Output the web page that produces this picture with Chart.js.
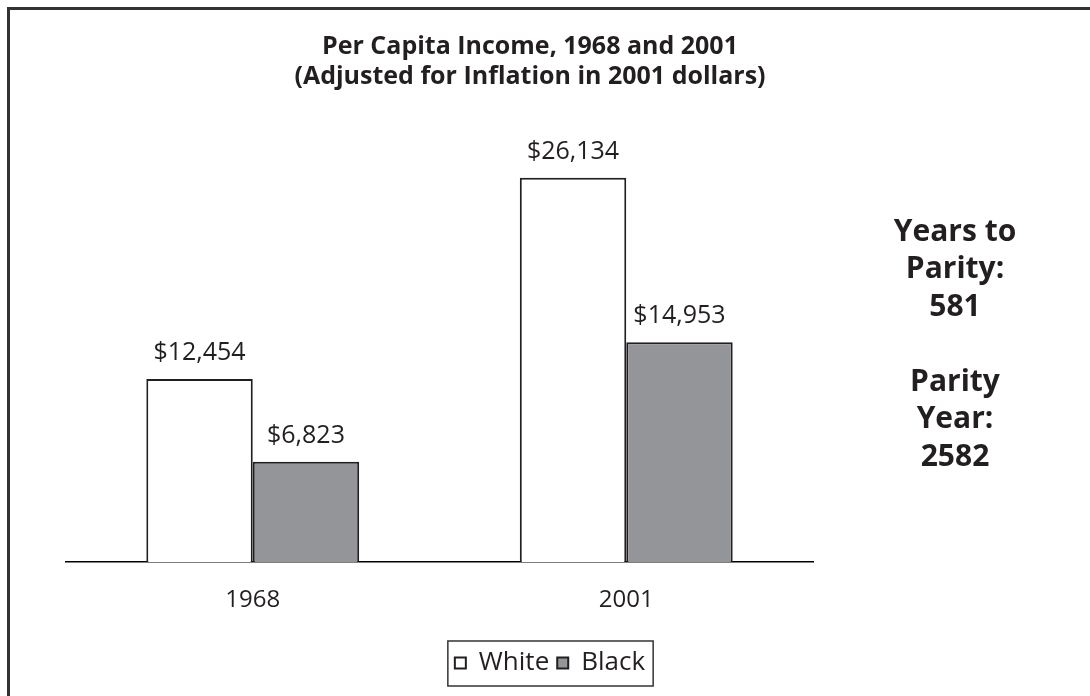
<!DOCTYPE html>
<html>
<head>
<meta charset="utf-8">
<script src="https://cdn.jsdelivr.net/npm/chart.js@4.4.1/dist/chart.umd.min.js"></script>
<style>
  html, body { margin: 0; padding: 0; background: #fff; }
  #wrap { width: 1090px; height: 696px; }
</style>
</head>
<body>
<div id="wrap"><canvas id="chart" width="1090" height="696"></canvas></div>
<script>
const years = ["1968", "2001"];
const seriesNames = ["White", "Black"];
const whiteIncome = [12454, 26134];
const blackIncome = [6823, 14953];
const titleLines = ["Per Capita Income, 1968 and 2001", "(Adjusted for Inflation in 2001 dollars)"];
const sideNotes = ["Years to", "Parity:", "581", "", "Parity", "Year:", "2582"];

const FONT = "'Open Sans', 'DejaVu Sans', sans-serif";
const INK = "#231f20";

const fmt = v => "$" + v.toLocaleString("en-US");

// frame, title and the notes on the right
const decorations = {
    id: 'decorations',
    beforeDraw(chart) {
        let ctx = chart.ctx;
        ctx.save();
        ctx.fillStyle = "#fff";
        ctx.fillRect(0, 0, chart.width, chart.height);
        ctx.strokeStyle = "#333";
        ctx.lineWidth = 3;
        ctx.strokeRect(8.5, 8.5, 1300, 900);
        ctx.restore();
    },
    afterDraw(chart) {
        let ctx = chart.ctx;
        ctx.save();
        ctx.fillStyle = INK;
        ctx.textAlign = "center";
        ctx.textBaseline = "middle";

        ctx.font = "bold 25px " + FONT;
        titleLines.forEach((t, i) => ctx.fillText(t, 530, 47 + i * 30));

        ctx.font = "bold 30px " + FONT;
        sideNotes.forEach((t, i) => ctx.fillText(t, 955, 232 + i * 37.5));

        // box round the legend
        let boxes = chart.legend.legendHitBoxes;
        if (boxes && boxes.length) {
            let first = boxes[0], last = boxes[boxes.length - 1];
            let x0 = first.left - 7, x1 = last.left + last.width + 8;
            let cy = first.top + first.height / 2;
            ctx.strokeStyle = "#333";
            ctx.lineWidth = 1.5;
            ctx.strokeRect(x0, cy - 22, x1 - x0, 45);
        }
        ctx.restore();
    }
};

// value labels above each bar
const valueLabels = {
    id: 'valueLabels',
    afterDatasetsDraw(chart, args, opts) {
        let ctx = chart.ctx;
        ctx.save();
        ctx.fillStyle = INK;
        ctx.font = "25px " + FONT;
        ctx.textAlign = "center";
        ctx.textBaseline = "middle";
        chart.data.datasets.forEach((ds, di) => {
            chart.getDatasetMeta(di).data.forEach((bar, i) => {
                ctx.fillText(fmt(ds.data[i]), bar.x, bar.y - opts.lift);
            });
        });
        ctx.restore();
    }
};

new Chart(document.getElementById('chart'), {
    type: 'bar',
    data: {
        labels: years,
        datasets: [
            {
                label: seriesNames[0],
                data: whiteIncome,
                backgroundColor: "#ffffff",
                borderColor: INK,
                borderWidth: 2,
                borderSkipped: 'start'
            },
            {
                label: seriesNames[1],
                data: blackIncome,
                backgroundColor: "#939598",
                borderColor: INK,
                borderWidth: 2,
                borderSkipped: 'start'
            }
        ]
    },
    options: {
        responsive: false,
        animation: false,
        categoryPercentage: 0.57,
        barPercentage: 1.0,
        layout: { padding: { top: 121, left: 10, right: 0, bottom: 10 } },
        scales: {
            x: {
                grid: { display: false, drawTicks: false },
                border: { display: true, color: "#000", width: 1.5 },
                ticks: { color: INK, font: { family: FONT, size: 24 }, padding: 24 },
                afterFit(scale) { scale.height = 80; }
            },
            y: {
                min: 0,
                max: 30000,
                grid: { display: false, drawTicks: false },
                border: { display: false },
                ticks: { display: false },
                afterFit(scale) { scale.width = 56; }
            },
            yRight: {
                position: 'right',
                min: 0,
                max: 30000,
                grid: { display: false, drawTicks: false },
                border: { display: false },
                ticks: { display: false },
                afterFit(scale) { scale.width = 277; }
            }
        },
        plugins: {
            title: { display: false },
            tooltip: { enabled: false },
            legend: {
                position: 'bottom',
                labels: {
                    color: INK,
                    boxWidth: 11,
                    boxHeight: 11,
                    padding: 8,
                    font: { family: FONT, size: 26 }
                }
            },
            valueLabels: { lift: 26 }
        }
    },
    plugins: [decorations, valueLabels]
});
</script>
</body>
</html>
